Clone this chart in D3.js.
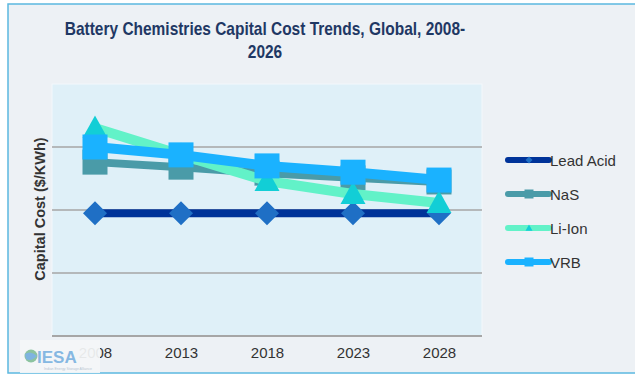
<!DOCTYPE html>
<html>
<head>
<meta charset="utf-8">
<script src="https://cdn.jsdelivr.net/npm/d3@7"></script>
<style>
  html,body{margin:0;padding:0;background:#fff;}
  svg{display:block;font-family:"Liberation Sans",Arial,sans-serif;}
</style>
</head>
<body>
<div id="chart"></div>
<script>
// values (unitless scale, no y tick labels in source)
var years = ["2008","2013","2018","2023","2028"];
var leadAcid = [390, 390, 390, 390, 390];
var nas      = [552, 536, 517, 502, 489];
var liIon    = [660, 575, 492, 451, 422];
var vrb      = [600, 575, 540, 520, 495];
var yTicks   = [0, 200, 400, 600];

var series = [
  {name:"Lead Acid", vals:leadAcid, line:"#003399", mark:"#1F6FC5", shape:"diamond", lw:8, ms:24},
  {name:"NaS",       vals:nas,      line:"#4A9BA8", mark:"#4A9BA8", shape:"square",  lw:8, ms:25},
  {name:"Li-Ion",    vals:liIon,    line:"#62F2C8", mark:"#12CED6", shape:"triangle",lw:10,ms:25},
  {name:"VRB",       vals:vrb,      line:"#1AB2FF", mark:"#1AB2FF", shape:"square",  lw:10,ms:25}
];

var W=635,H=376;
var svg=d3.select("#chart").append("svg").attr("width",W).attr("height",H);

// page background + thin blue frame (right edge cropped off in source)
svg.append("rect").attr("width",W).attr("height",H).attr("fill","#fff");
svg.append("rect").attr("x",8).attr("y",4).attr("width",W).attr("height",369)
   .attr("fill","#EDF1F5").attr("stroke","#5BB8E0").attr("stroke-width",1.5);

// title (source is slightly condensed, so squeeze it horizontally)
var title=svg.append("text").attr("text-anchor","middle").attr("fill","#1F3864")
   .attr("transform","translate(265,0) scale(0.86,1)")
   .style("font-weight","bold").style("font-size","18px");
title.append("tspan").attr("x",0).attr("y",35).text("Battery Chemistries Capital Cost Trends, Global, 2008-");
title.append("tspan").attr("x",0).attr("y",58).text("2026");

var plot={l:52,t:84,r:482,b:336};
var x=d3.scalePoint().domain(years).range([plot.l,plot.r]).padding(0.5);
var y=d3.scaleLinear().domain([0,800]).range([plot.b,plot.t]);

svg.append("rect").attr("x",plot.l).attr("y",plot.t).attr("width",plot.r-plot.l).attr("height",plot.b-plot.t)
   .attr("fill","#DFF0F8").attr("stroke","#F3F8FB").attr("stroke-width",1);

// gridlines + baseline
svg.append("g").selectAll("line").data(yTicks).enter().append("line")
   .attr("x1",plot.l).attr("x2",plot.r).attr("y1",function(d){return y(d);}).attr("y2",function(d){return y(d);})
   .attr("stroke","#A6A6A6").attr("stroke-width",function(d){return d===0?2:1.5;});

// x axis labels
var xa=svg.append("g").attr("transform","translate(0,"+plot.b+")")
   .call(d3.axisBottom(x).tickSize(0).tickPadding(11));
xa.select(".domain").remove();
xa.selectAll("text").attr("fill","#333").style("font-size","15px").attr("font-family","Liberation Sans, Arial, sans-serif");

// y axis title
svg.append("text").attr("transform","translate(45,209) rotate(-90)").attr("text-anchor","middle")
   .attr("fill","#333").style("font-weight","bold").style("font-size","14.5px").text("Capital Cost ($/KWh)");

function markerPath(shape,s){
  var h=s/2;
  if(shape==="diamond") return "M0,"+(-h)+"L"+h+",0L0,"+h+"L"+(-h)+",0Z";
  if(shape==="triangle") return "M0,"+(-h)+"L"+h+","+(h*0.8)+"L"+(-h)+","+(h*0.8)+"Z";
  return "M"+(-h)+","+(-h)+"H"+h+"V"+h+"H"+(-h)+"Z";
}

var line=d3.line().x(function(d,i){return x(years[i]);}).y(function(d){return y(d);});

series.forEach(function(s){
  var g=svg.append("g");
  g.append("path").attr("d",line(s.vals)).attr("fill","none").attr("stroke",s.line)
   .attr("stroke-width",s.lw).attr("stroke-linejoin","round");
  g.selectAll("path.mk").data(s.vals).enter().append("path").attr("class","mk")
   .attr("transform",function(d,i){return "translate("+x(years[i])+","+y(d)+")";})
   .attr("d",markerPath(s.shape,s.ms)).attr("fill",s.mark);
});

// legend
var lg=svg.append("g").attr("transform","translate(508,160)");
series.forEach(function(s,i){
  var r=lg.append("g").attr("transform","translate(0,"+(i*34)+")");
  r.append("line").attr("x1",0).attr("x2",41).attr("stroke",s.line).attr("stroke-width",6).attr("stroke-linecap","round");
  r.append("path").attr("transform","translate(21,0)").attr("d",markerPath(s.shape,s.shape==="square"?9:7)).attr("fill",s.mark);
  r.append("text").attr("x",42).attr("y",5.5).attr("fill","#333").style("font-size","15px").text(s.name);
});

// IESA logo badge over the first tick label
var logo=svg.append("g");
logo.append("rect").attr("x",20).attr("y",340).attr("width",80).attr("height",33).attr("fill","#F4F6F8").attr("opacity",0.93);
logo.append("circle").attr("cx",31).attr("cy",356).attr("r",6.5).attr("fill","#8CC3A0");
logo.append("path").attr("d","M25,354 Q31,350 37,356 Q31,362 26,359Z").attr("fill","#7FB4E0");
logo.append("text").attr("x",37).attr("y",363).attr("fill","#86B8E2").style("font-weight","bold").style("font-size","17px").text("IESA");
logo.append("text").attr("x",44).attr("y",370).attr("fill","#B8C6D2").style("font-size","3.5px").text("Indian Energy Storage Alliance");
</script>
</body>
</html>
